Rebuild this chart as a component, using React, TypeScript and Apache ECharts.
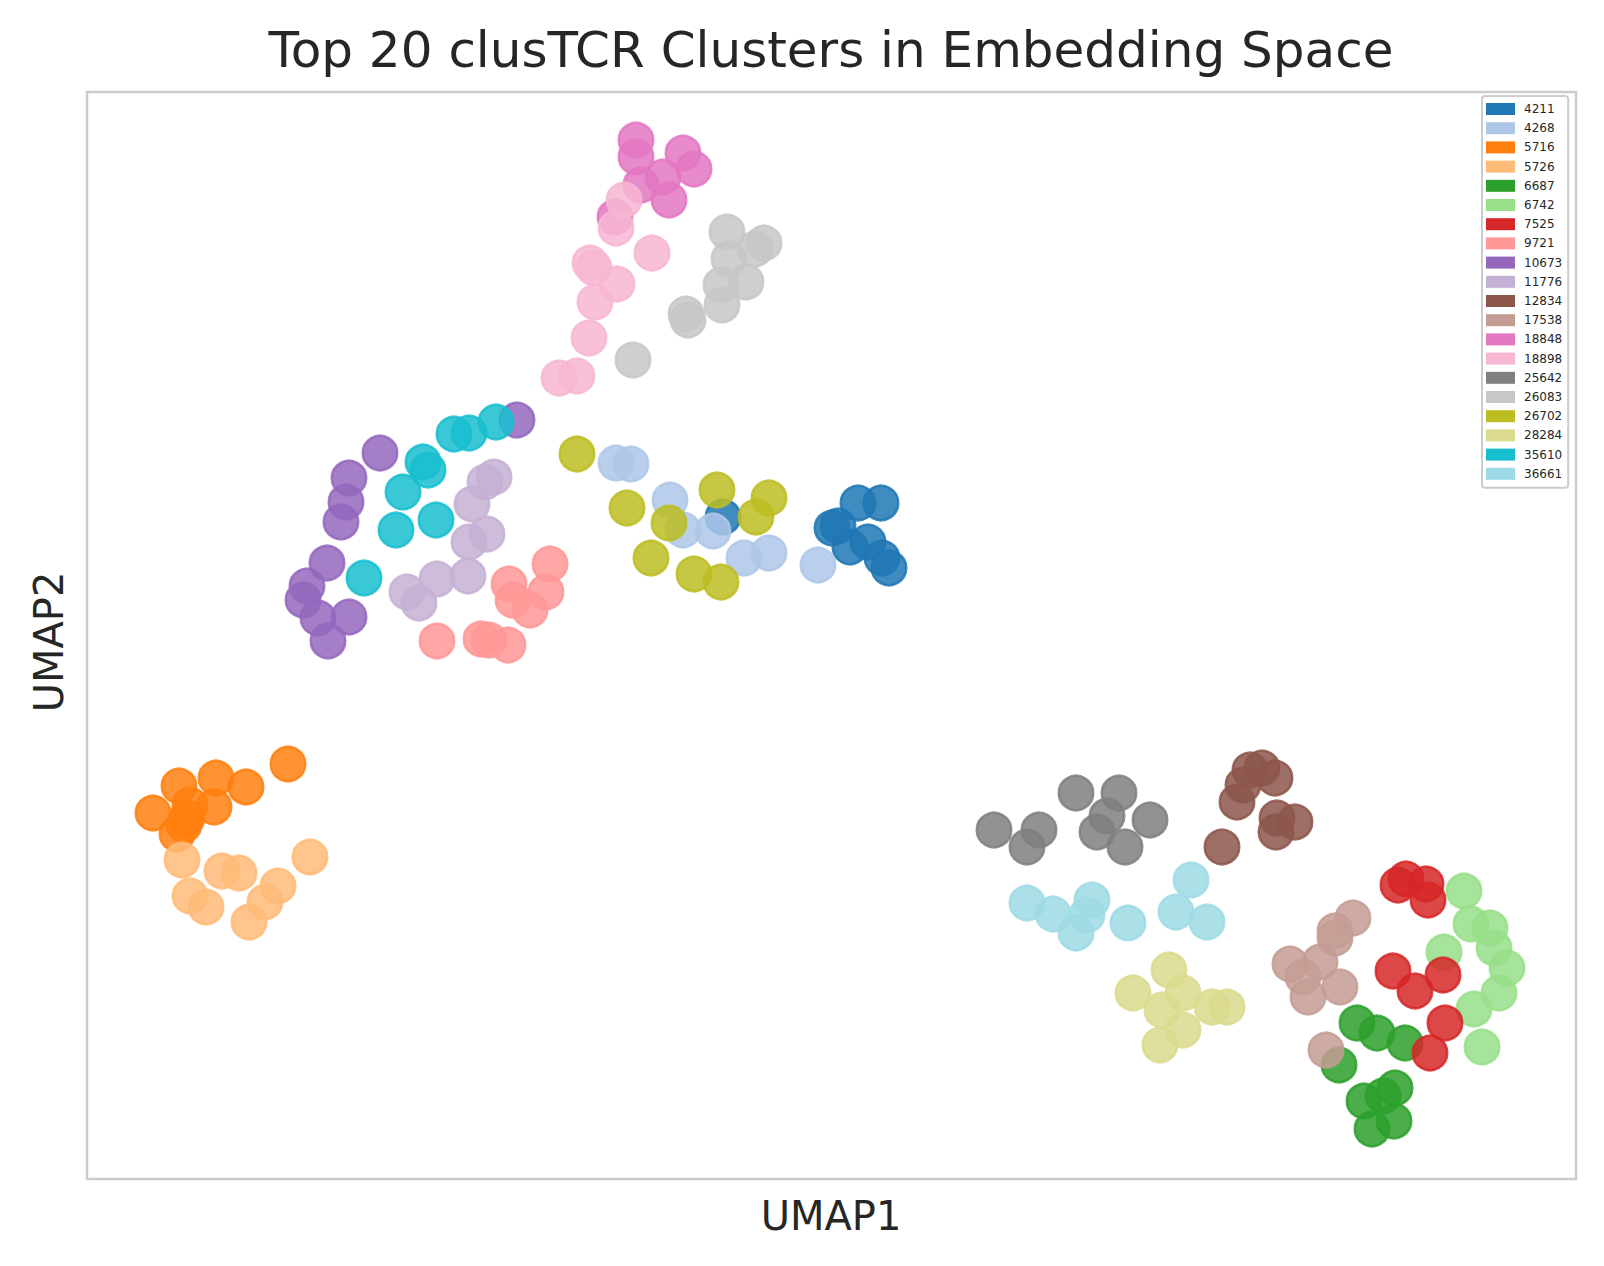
import React, { useEffect, useRef } from "react";
import * as echarts from "echarts";

const clusterIds = ["4211","4268","5716","5726","6687","6742","7525","9721","10673","11776","12834","17538","18848","18898","25642","26083","26702","28284","35610","36661"];

const colors = ["#1f77b4","#aec7e8","#ff7f0e","#ffbb78","#2ca02c","#98df8a","#d62728","#ff9896","#9467bd","#c5b0d5","#8c564b","#c49c94","#e377c2","#f7b6d2","#7f7f7f","#c7c7c7","#bcbd22","#dbdb8d","#17becf","#9edae5"];

const c4211 = [[7.71,6.76],[7.94,6.76],[7.45,6.51],[7.51,6.53],[7.63,6.32],[7.81,6.37],[7.95,6.21],[8.02,6.11],[6.36,6.62]];
const c4268 = [[5.29,7.16],[5.44,7.15],[5.83,6.79],[5.96,6.49],[6.26,6.48],[6.57,6.21],[6.82,6.26],[7.31,6.14]];
const c5716 = [[2.01,4.15],[0.92,3.93],[1.29,4.01],[1.59,3.92],[0.66,3.66],[1.03,3.74],[1.27,3.72],[1.00,3.61],[0.97,3.54],[0.90,3.45]];
const c5726 = [[2.23,3.22],[0.95,3.19],[1.35,3.08],[1.52,3.06],[1.03,2.83],[1.19,2.72],[1.91,2.93],[1.78,2.77],[1.62,2.57]];
const c6687 = [[12.70,1.56],[12.90,1.46],[13.18,1.36],[12.52,1.14],[13.08,0.91],[12.96,0.83],[12.77,0.78],[13.07,0.58],[12.85,0.50]];
const c6742 = [[13.77,2.88],[13.84,2.55],[14.03,2.51],[13.57,2.27],[14.07,2.31],[14.20,2.11],[14.12,1.86],[13.87,1.70],[13.95,1.32]];
const c7525 = [[13.11,2.94],[13.19,3.00],[13.39,2.95],[13.41,2.79],[13.06,2.08],[13.28,1.88],[13.56,2.04],[13.58,1.56],[13.43,1.26]];
const c9721 = [[4.63,6.15],[4.22,5.95],[4.59,5.87],[4.26,5.79],[4.43,5.69],[3.50,5.38],[3.94,5.40],[4.02,5.39],[4.21,5.34]];
const c10673 = [[4.30,7.59],[2.93,7.26],[2.62,7.01],[2.59,6.77],[2.54,6.57],[2.40,6.16],[2.20,5.93],[2.16,5.79],[2.31,5.61],[2.62,5.62],[2.41,5.38]];
const c11776 = [[4.07,7.02],[3.98,6.97],[3.85,6.75],[4.00,6.45],[3.82,6.37],[3.81,6.03],[3.50,6.00],[3.20,5.87],[3.32,5.76]];
const c12834 = [[11.63,4.09],[11.75,4.11],[11.88,4.01],[11.56,3.94],[11.50,3.77],[11.90,3.61],[12.08,3.57],[11.89,3.47],[11.35,3.32]];
const c17538 = [[12.66,2.61],[12.48,2.48],[12.48,2.41],[12.03,2.15],[12.33,2.17],[12.16,2.02],[12.21,1.82],[12.53,1.92],[12.39,1.29]];
const c18848 = [[5.49,10.39],[5.49,10.22],[5.96,10.26],[6.07,10.10],[5.54,9.94],[5.76,10.02],[5.82,9.79],[5.28,9.62]];
const c18898 = [[5.37,9.79],[5.29,9.51],[5.65,9.26],[5.03,9.16],[5.07,9.11],[5.30,8.95],[5.08,8.77],[5.02,8.41],[4.72,8.01],[4.90,8.03]];
const c25642 = [[9.89,3.86],[10.32,3.86],[9.07,3.49],[9.52,3.49],[9.40,3.32],[10.20,3.63],[10.10,3.47],[10.63,3.59],[10.38,3.32]];
const c26083 = [[6.40,9.47],[6.77,9.36],[6.68,9.30],[6.42,9.20],[6.59,8.97],[6.34,8.94],[6.35,8.74],[5.99,8.65],[6.01,8.59],[5.46,8.19]];
const c26702 = [[4.90,7.25],[5.40,6.71],[5.82,6.56],[6.30,6.89],[6.82,6.81],[6.69,6.62],[5.64,6.21],[6.07,6.05],[6.34,5.97]];
const c28284 = [[10.82,2.09],[10.46,1.86],[10.96,1.86],[10.75,1.69],[11.25,1.72],[11.40,1.72],[10.96,1.49],[10.73,1.34]];
const c35610 = [[4.09,7.57],[3.82,7.46],[3.67,7.45],[3.36,7.17],[3.41,7.09],[3.16,6.87],[3.49,6.59],[3.09,6.49],[2.77,6.01]];
const c36661 = [[9.40,2.76],[9.66,2.65],[10.05,2.79],[10.00,2.64],[9.89,2.46],[10.41,2.56],[11.04,2.99],[10.89,2.67],[11.20,2.57]];

const clusterPoints = [c4211,c4268,c5716,c5726,c6687,c6742,c7525,c9721,c10673,c11776,c12834,c17538,c18848,c18898,c25642,c26083,c26702,c28284,c35610,c36661];

const xRange = [0, 14.89];
const yRange = [0, 10.87];

const FONT = "DejaVu Sans";

export default function App() {
  const ref = useRef<HTMLDivElement>(null);
  useEffect(() => {
    if (!ref.current) return;
    const chart = echarts.init(ref.current, undefined, { renderer: "svg" });
    const series = clusterIds.map((id, i) => ({
      name: id,
      type: "scatter",
      data: clusterPoints[i],
      symbol: "circle",
      symbolSize: 34.5,
      itemStyle: {
        color: colors[i],
        opacity: 0.85,
        borderColor: colors[i],
        borderWidth: 2.5,
      },
      emphasis: { disabled: true },
    }));
    chart.setOption({
      animation: false,
      backgroundColor: "#ffffff",
      grid: {
        left: 87,
        top: 92,
        width: 1489,
        height: 1087,
        show: true,
        borderColor: "#cccccc",
        borderWidth: 2.5,
        backgroundColor: "#ffffff",
      },
      xAxis: { type: "value", min: xRange[0], max: xRange[1], show: false },
      yAxis: { type: "value", min: yRange[0], max: yRange[1], show: false },
      legend: {
        orient: "vertical",
        left: 1482,
        top: 96,
        padding: [7, 6, 8, 4],
        itemWidth: 29,
        itemHeight: 12,
        itemGap: 7.2,
        icon: "rect",
        borderColor: "#cccccc",
        borderWidth: 2,
        borderRadius: 3,
        backgroundColor: "#ffffff",
        itemStyle: { opacity: 1, borderWidth: 0 },
        textStyle: {
          fontFamily: FONT,
          fontSize: 12,
          lineHeight: 12,
          color: "#262626",
          padding: [0, 0, 0, 4],
        },
        data: clusterIds,
      },
      graphic: [
        {
          type: "text",
          x: 831,
          y: 50,
          style: {
            text: "Top 20 clusTCR Clusters in Embedding Space",
            fontFamily: FONT,
            fontSize: 50,
            fill: "#262626",
            textAlign: "center",
            textVerticalAlign: "middle",
          },
        },
        {
          type: "text",
          x: 831,
          y: 1216,
          style: {
            text: "UMAP1",
            fontFamily: FONT,
            fontSize: 40,
            fill: "#262626",
            textAlign: "center",
            textVerticalAlign: "middle",
          },
        },
        {
          type: "text",
          x: 49,
          y: 642,
          rotation: Math.PI / 2,
          style: {
            text: "UMAP2",
            fontFamily: FONT,
            fontSize: 40,
            fill: "#262626",
            textAlign: "center",
            textVerticalAlign: "middle",
          },
        },
      ],
      series,
    });
    return () => chart.dispose();
  }, []);
  return (
    <div
      ref={ref}
      style={{ position: "fixed", left: 0, top: 0, width: 1604, height: 1266 }}
    />
  );
}
